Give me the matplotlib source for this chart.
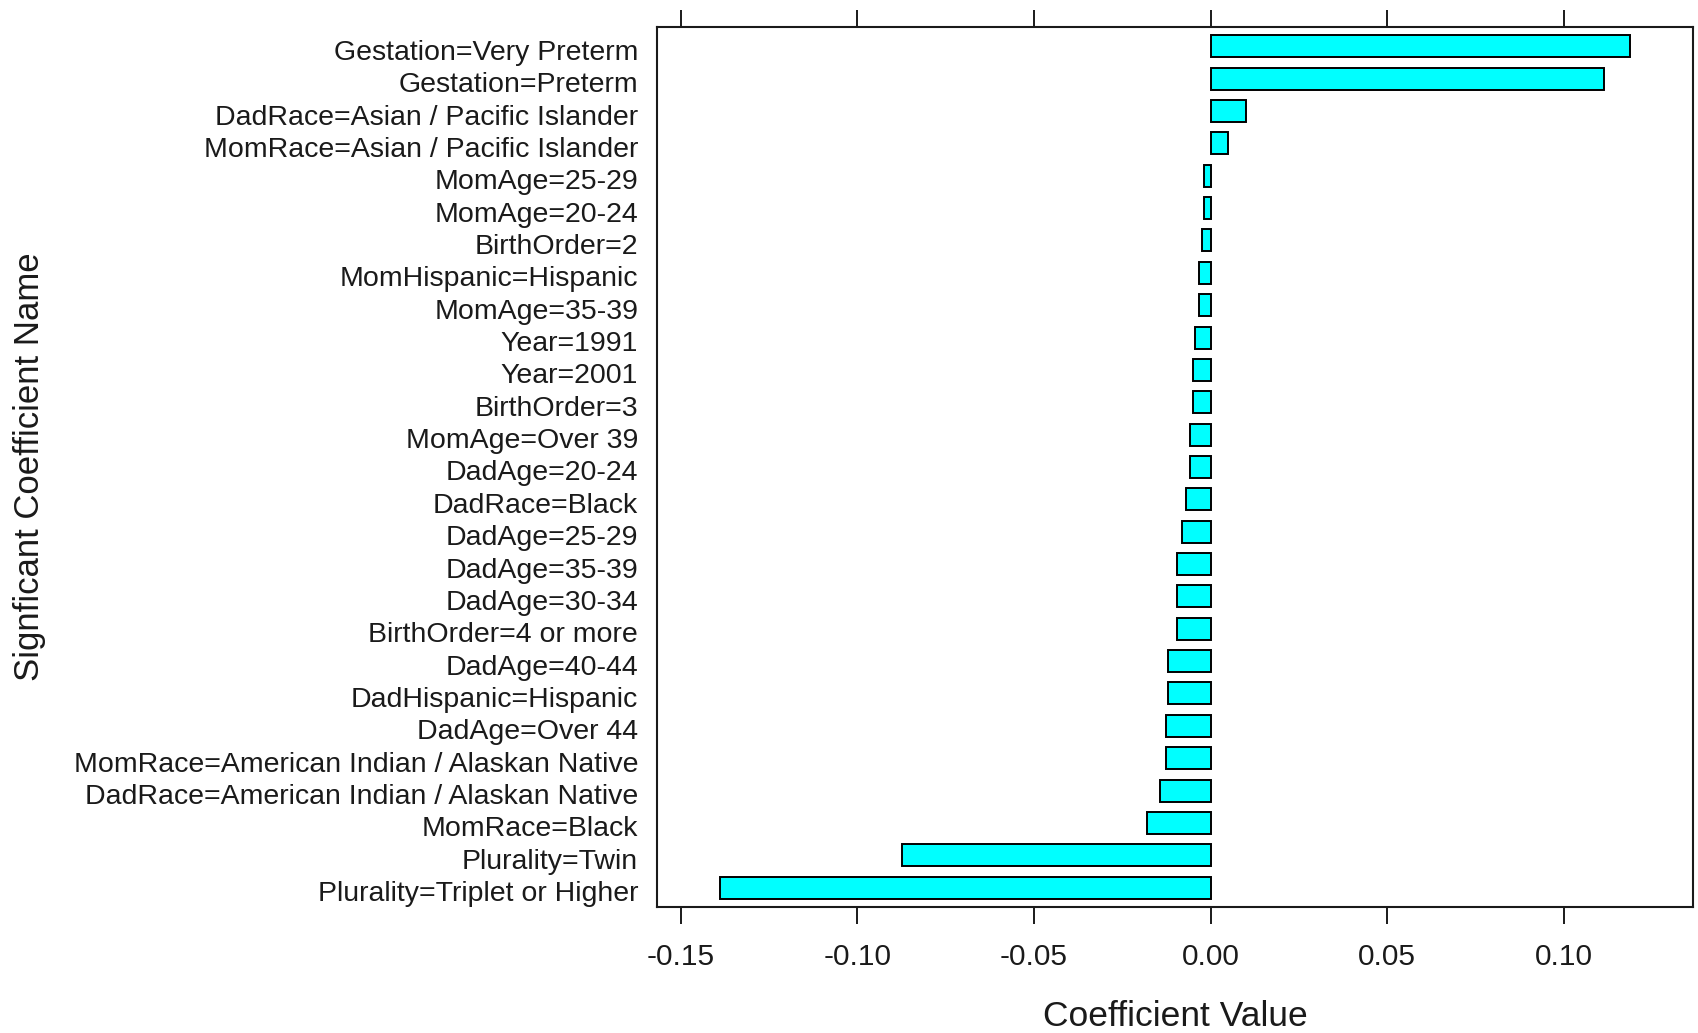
import numpy as np
import matplotlib
matplotlib.use("Agg")
import matplotlib.pyplot as plt
import matplotlib.transforms as mtransforms

# Coefficient names, top to bottom, and their estimated values
names = [
    "Gestation=Very Preterm",
    "Gestation=Preterm",
    "DadRace=Asian / Pacific Islander",
    "MomRace=Asian / Pacific Islander",
    "MomAge=25-29",
    "MomAge=20-24",
    "BirthOrder=2",
    "MomHispanic=Hispanic",
    "MomAge=35-39",
    "Year=1991",
    "Year=2001",
    "BirthOrder=3",
    "MomAge=Over 39",
    "DadAge=20-24",
    "DadRace=Black",
    "DadAge=25-29",
    "DadAge=35-39",
    "DadAge=30-34",
    "BirthOrder=4 or more",
    "DadAge=40-44",
    "DadHispanic=Hispanic",
    "DadAge=Over 44",
    "MomRace=American Indian / Alaskan Native",
    "DadRace=American Indian / Alaskan Native",
    "MomRace=Black",
    "Plurality=Twin",
    "Plurality=Triplet or Higher",
]
values = [
    0.1188, 0.1113, 0.0101, 0.0050, -0.0019, -0.0019, -0.0025, -0.0032,
    -0.0032, -0.0045, -0.0050, -0.0050, -0.0058, -0.0058, -0.0070, -0.0082,
    -0.0094, -0.0094, -0.0094, -0.0119, -0.0119, -0.0125, -0.0125, -0.0143,
    -0.0180, -0.0872, -0.1388,
]
xticks = [-0.15, -0.10, -0.05, 0.00, 0.05, 0.10]

ink = "#1a1a1a"
plt.rcParams["font.family"] = ["Liberation Sans", "DejaVu Sans"]

fig = plt.figure(figsize=(16.98, 10.33), dpi=100)
ax = fig.add_axes([0.3869, 0.122, 0.6102, 0.8519])

ypos = np.arange(len(names))[::-1]
ax.barh(ypos, values, height=0.68, color="#00FFFF", edgecolor="black",
        linewidth=1.4)

ax.set_ylim(-0.6, len(names) - 0.4)
ax.set_xlim(-0.1567, 0.1366)

ax.set_yticks(ypos)
ax.set_yticklabels(names, fontsize=20.5, color=ink)
ax.tick_params(axis="y", length=0, pad=13.5)
# nudge the row labels down a touch
shift = mtransforms.ScaledTranslation(0, -2.5 / 72, fig.dpi_scale_trans)
for lab in ax.get_yticklabels():
    lab.set_transform(lab.get_transform() + shift)

ax.set_xticks(xticks)
ax.set_xticklabels([f"{t:.2f}" for t in xticks], fontsize=21.5, color=ink)
ax.tick_params(axis="x", direction="out", length=12, width=1.4,
               color=ink, pad=14, top=True, labeltop=False)

for s in ax.spines.values():
    s.set_linewidth(1.5)
    s.set_color(ink)

ax.set_xlabel("Coefficient Value", fontsize=25.5, color=ink, labelpad=21)
ax.set_ylabel("Signficant Coefficient Name", fontsize=25, color=ink)
ax.yaxis.set_label_coords(-0.590, 0.5)

fig.savefig("out.png", dpi=100)
